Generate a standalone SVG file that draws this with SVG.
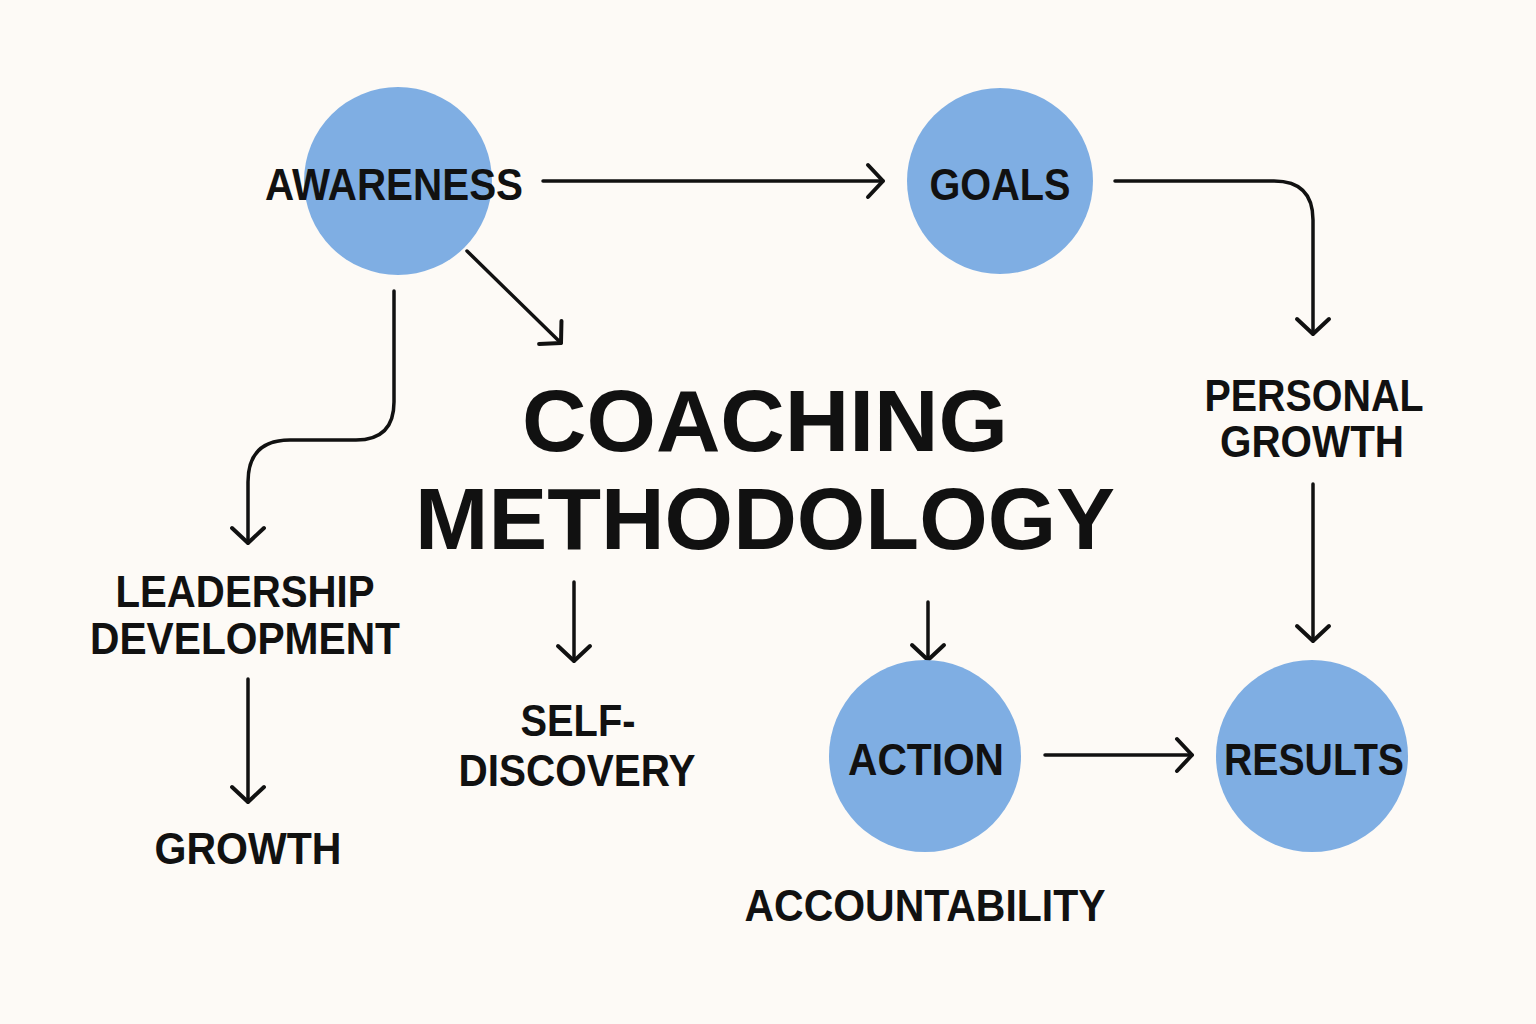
<svg xmlns="http://www.w3.org/2000/svg" width="1536" height="1024" viewBox="0 0 1536 1024">
<defs>
<style>
.node{fill:#7faee3}
.lbl{font-family:"Liberation Sans",Arial,sans-serif;font-weight:bold;fill:#111;text-anchor:middle}
.s{font-size:44px}
.t{font-size:88px}
.c{fill:none;stroke:#111;stroke-width:3.5;stroke-linecap:round;stroke-linejoin:round}
</style>
<marker id="ah" markerUnits="userSpaceOnUse" markerWidth="40" markerHeight="40" refX="20" refY="20" orient="auto" viewBox="0 0 40 40">
<path d="M5 4 L20 20 L5 36" fill="none" stroke="#111" stroke-width="4" stroke-linecap="round" stroke-linejoin="round"/>
</marker>
</defs>
<rect width="1536" height="1024" fill="#fdfaf6"/>
<g id="connectors">
<path class="c" d="M543 181 L883 181" marker-end="url(#ah)"/>
<path class="c" d="M467 251 L561 343" marker-end="url(#ah)"/>
<path class="c" d="M394 291 L394 402 Q394 440 356 440 L290 440 Q248 440 248 482 L248 543" marker-end="url(#ah)"/>
<path class="c" d="M1115 181 L1274 181 Q1313 181 1313 220 L1313 334" marker-end="url(#ah)"/>
<path class="c" d="M1313 484 L1313 641" marker-end="url(#ah)"/>
<path class="c" d="M248 679 L248 802" marker-end="url(#ah)"/>
<path class="c" d="M574 582 L574 661" marker-end="url(#ah)"/>
<path class="c" d="M928 602 L928 660" marker-end="url(#ah)"/>
<path class="c" d="M1045 755 L1192 755" marker-end="url(#ah)"/>
</g>
<g id="awareness">
<circle class="node" cx="398" cy="181" r="94"/>
<text class="lbl s" x="394" y="200" textLength="258" lengthAdjust="spacingAndGlyphs">AWARENESS</text>
</g>
<g id="goals">
<circle class="node" cx="1000" cy="181" r="93"/>
<text class="lbl s" x="1000" y="200" textLength="141" lengthAdjust="spacingAndGlyphs">GOALS</text>
</g>
<g id="title">
<text class="lbl t" x="765" y="451" textLength="486" lengthAdjust="spacingAndGlyphs">COACHING</text>
<text class="lbl t" x="765" y="549" textLength="700" lengthAdjust="spacingAndGlyphs">METHODOLOGY</text>
</g>
<g id="personal-growth">
<text class="lbl s" x="1314" y="411" textLength="219" lengthAdjust="spacingAndGlyphs">PERSONAL</text>
<text class="lbl s" x="1312" y="457" textLength="184" lengthAdjust="spacingAndGlyphs">GROWTH</text>
</g>
<g id="leadership-development">
<text class="lbl s" x="245" y="607" textLength="259" lengthAdjust="spacingAndGlyphs">LEADERSHIP</text>
<text class="lbl s" x="245" y="654" textLength="310" lengthAdjust="spacingAndGlyphs">DEVELOPMENT</text>
</g>
<g id="growth">
<text class="lbl s" x="248" y="864" textLength="187" lengthAdjust="spacingAndGlyphs">GROWTH</text>
</g>
<g id="self-discovery">
<text class="lbl s" x="578" y="736" textLength="115" lengthAdjust="spacingAndGlyphs">SELF-</text>
<text class="lbl s" x="577" y="786" textLength="237" lengthAdjust="spacingAndGlyphs">DISCOVERY</text>
</g>
<g id="action">
<circle class="node" cx="925" cy="756" r="96"/>
<text class="lbl s" x="926" y="775" textLength="156" lengthAdjust="spacingAndGlyphs">ACTION</text>
</g>
<g id="results">
<circle class="node" cx="1312" cy="756" r="96"/>
<text class="lbl s" x="1314" y="775" textLength="180" lengthAdjust="spacingAndGlyphs">RESULTS</text>
</g>
<g id="accountability">
<text class="lbl s" x="925" y="921" textLength="361" lengthAdjust="spacingAndGlyphs">ACCOUNTABILITY</text>
</g>
</svg>
